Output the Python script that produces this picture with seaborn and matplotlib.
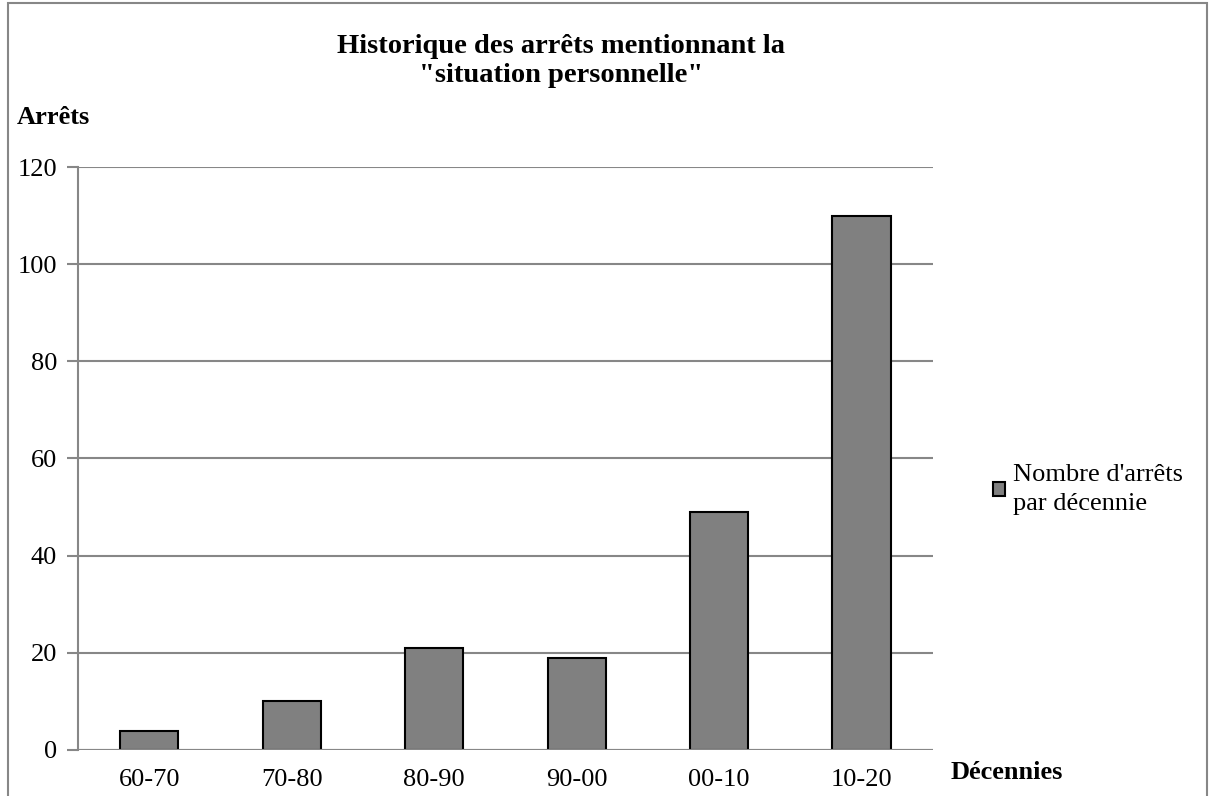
import matplotlib
matplotlib.use("Agg")
import matplotlib.pyplot as plt
import seaborn as sns
import pandas as pd
from matplotlib.patches import Rectangle

# data
decennies = ["60-70", "70-80", "80-90", "90-00", "00-10", "10-20"]
arrets = [4, 10, 21, 19, 49, 110]
serie = "Nombre d'arrêts\npar décennie"

df = pd.DataFrame({"decennie": decennies, "arrets": arrets, "serie": serie})

sns.set_style("white")
plt.rcParams["font.family"] = ["Liberation Serif", "DejaVu Serif"]
plt.rcParams["text.color"] = "black"
plt.rcParams["xtick.color"] = "black"
plt.rcParams["ytick.color"] = "black"

fig = plt.figure(figsize=(12.11, 7.96), dpi=100)
ax = fig.add_axes([0.0644, 0.0578, 0.7060, 0.7324])

sns.barplot(data=df, x="decennie", y="arrets", hue="serie", palette=["#808080"],
            width=0.41, edgecolor="black", linewidth=1.5, ax=ax, saturation=1)

ax.set_ylim(0, 120)
ax.set_xlim(-0.5, 5.5)
ax.set_yticks(range(0, 121, 20))
ax.yaxis.grid(True, color="#878787", linewidth=1.5)
ax.set_axisbelow(True)
for s in ["top", "right", "bottom"]:
    ax.spines[s].set_visible(False)
ax.spines["left"].set_color("#878787")
ax.spines["left"].set_linewidth(1.5)
ax.axhline(0, color="#878787", linewidth=1.5, zorder=1)

# ticks between categories on x, left ticks on y
ax.set_xticks([i + 0.5 for i in range(-1, 6)], minor=True)
ax.tick_params(axis="x", which="minor", length=9, width=1.5, color="#878787", direction="out")
ax.tick_params(axis="x", which="major", length=0, labelsize=19, pad=14, labelcolor="black")
ax.tick_params(axis="y", length=8, width=1.5, color="#878787", labelsize=19, pad=7,
               left=True, labelcolor="black")
ax.set_xlabel("")
ax.set_ylabel("")

fig.text(0.463, 0.957, "Historique des arrêts mentionnant la\n\"situation personnelle\"",
         ha="center", va="top", fontsize=20.5, fontweight="bold", linespacing=1.2)
fig.text(0.014, 0.853, "Arrêts", fontsize=19, fontweight="bold", va="center")
fig.text(0.785, 0.030, "Décennies", fontsize=19, fontweight="bold", va="center")

leg = ax.legend(loc="center left", bbox_to_anchor=(0.8095, 0.385), bbox_transform=fig.transFigure,
                frameon=False, fontsize=19, handlelength=0.45, handleheight=0.45,
                handletextpad=0.3, borderpad=0)
for t in leg.get_texts():
    t.set_linespacing(1.4)

fig.patches.append(Rectangle((0.0066, -0.05), 0.9905, 1.046, transform=fig.transFigure,
                             fill=False, edgecolor="#878787", linewidth=1.5))

fig.savefig("out.png", dpi=100)
